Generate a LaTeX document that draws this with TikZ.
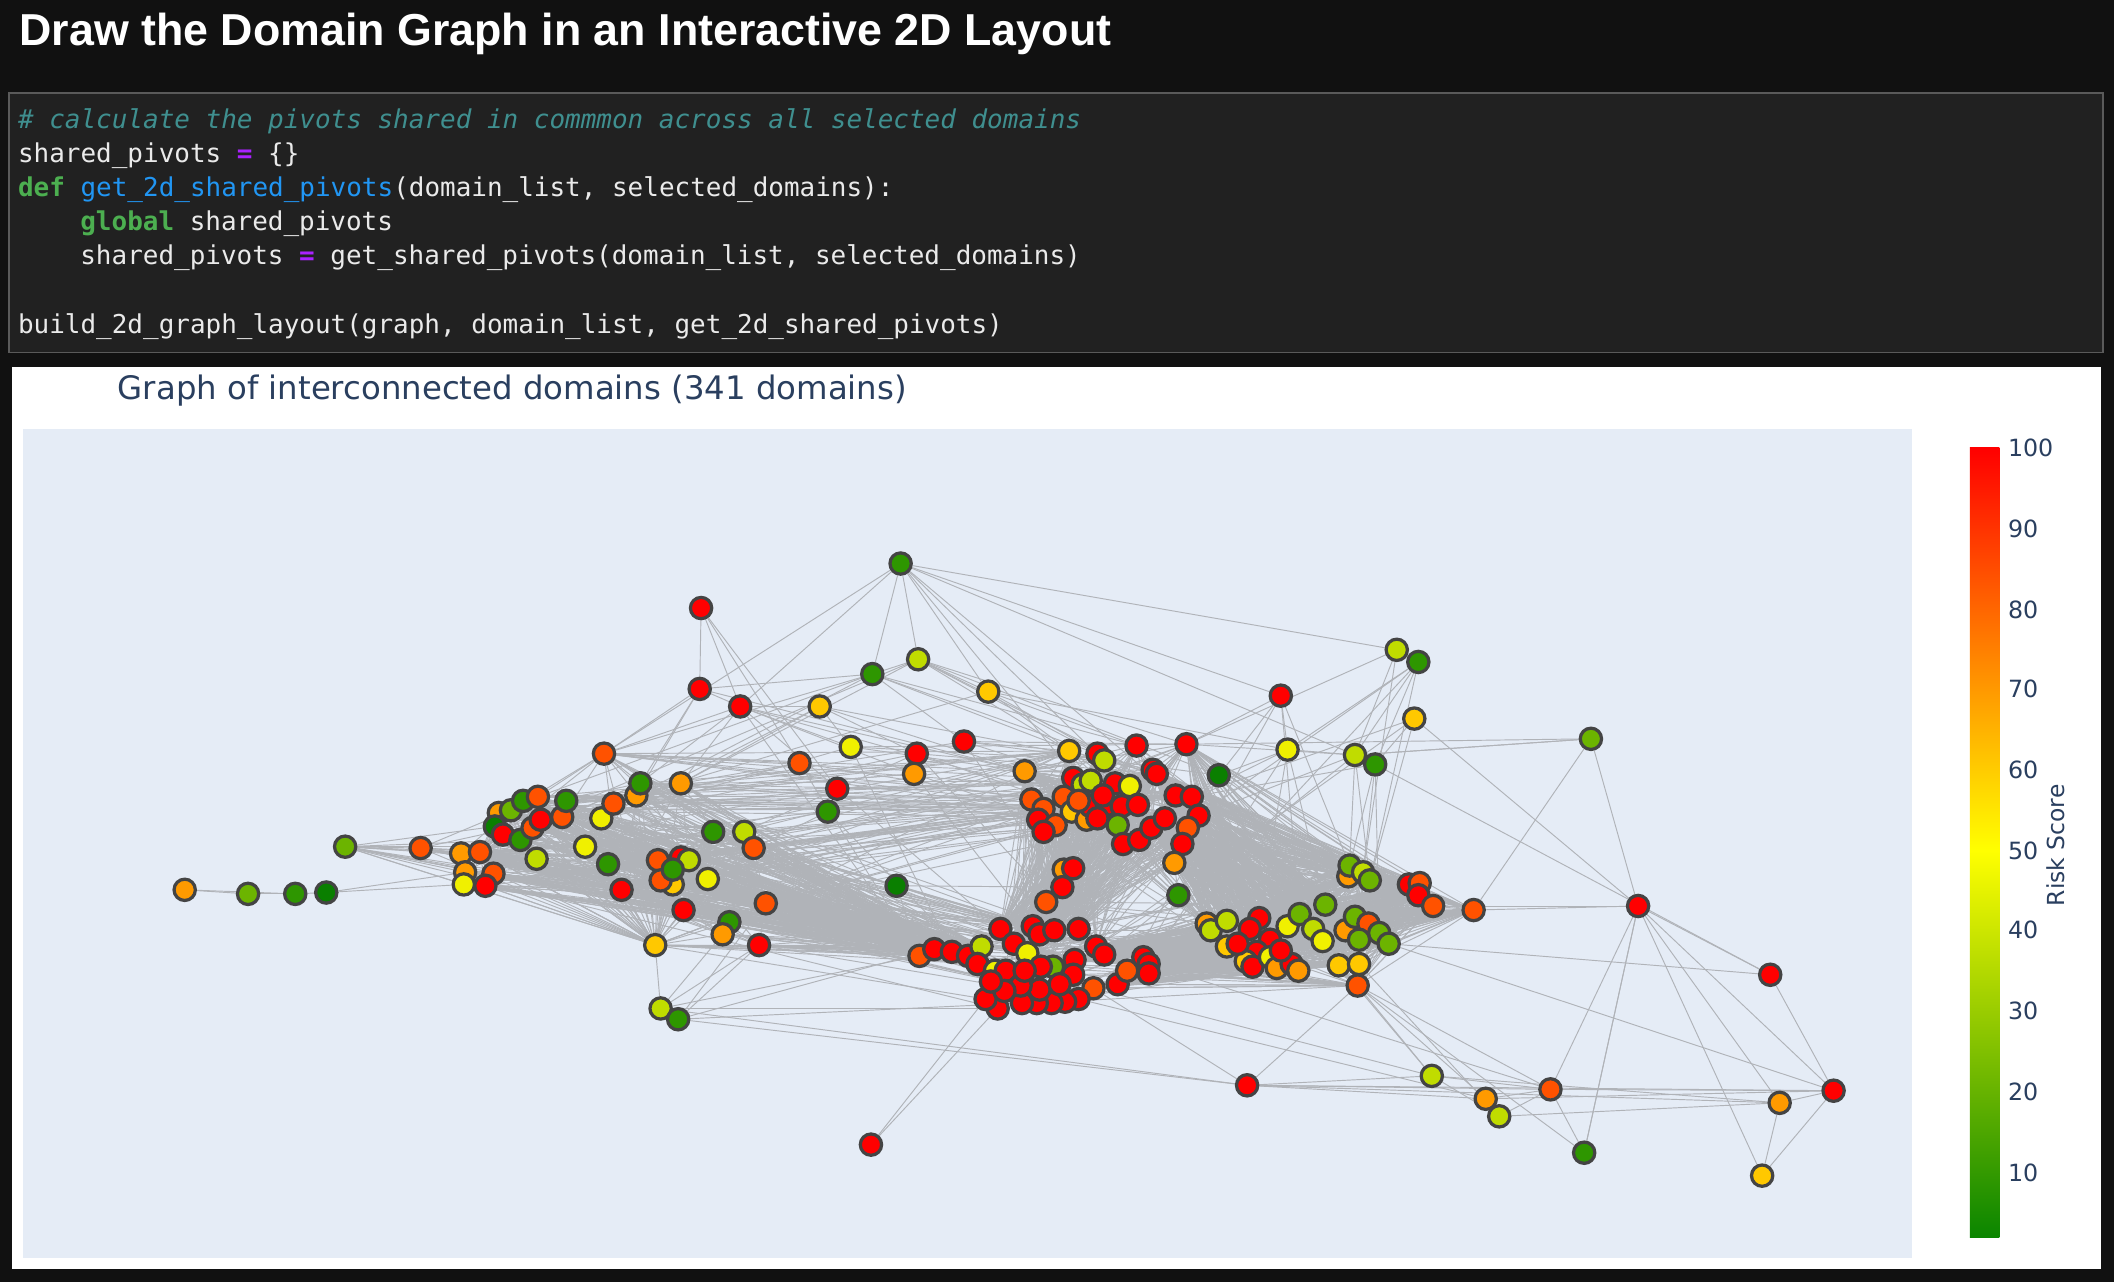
\documentclass[tikz,border=0pt]{standalone}
\usepackage{fontspec}
\setmainfont{Liberation Sans}
\setmonofont{DejaVu Sans Mono}
\newfontfamily\plotfont{DejaVu Sans}
\newfontfamily\headfont{Liberation Sans}
\definecolor{bgdark}{HTML}{111111}
\definecolor{codebg}{HTML}{212121}
\definecolor{codeborder}{HTML}{5A5A5A}
\definecolor{codetxt}{HTML}{EAEAEA}
\definecolor{cmt}{HTML}{3F8F8F}
\definecolor{kw}{HTML}{4CAF50}
\definecolor{fn}{HTML}{2196F3}
\definecolor{op}{HTML}{AA22FF}
\definecolor{plotbg}{HTML}{E5ECF6}
\definecolor{ptxt}{HTML}{2A3F5F}
\definecolor{edgegray}{HTML}{B0B3B8}
\definecolor{nline}{HTML}{444444}
\definecolor{cR}{HTML}{FF0000}
\definecolor{cOR}{HTML}{FF5200}
\definecolor{cO}{HTML}{FF9A00}
\definecolor{cYO}{HTML}{FFC800}
\definecolor{cY}{HTML}{F0F000}
\definecolor{cYG}{HTML}{C0DC00}
\definecolor{cLG}{HTML}{6CB400}
\definecolor{cG}{HTML}{2E9600}
\definecolor{cDG}{HTML}{0A7F00}
\definecolor{barlow}{HTML}{0A8500}
\definecolor{baryel}{HTML}{FFFF00}
\definecolor{barred}{HTML}{FF0000}
\pgfdeclareverticalshading{riskbar}{100bp}{color(0bp)=(barlow); color(25bp)=(barlow); color(49.5bp)=(baryel); color(75bp)=(barred); color(100bp)=(barred)}
\pgfdeclarelayer{back}
\pgfdeclarelayer{edges}
\pgfsetlayers{back,edges,main}
\tikzset{
  dom/.style={circle, draw=nline, line width=1.2pt, minimum size=7.9pt, inner sep=0pt, fill=#1},
  link/.style={draw=edgegray, line width=0.35pt},
  codeline/.style={anchor=base west, inner sep=0pt, text=codetxt, font=\ttfamily\fontsize{9.63}{11}\selectfont},
  tick/.style={anchor=west, inner sep=0pt, text=ptxt, font=\plotfont\fontsize{8.8}{11}\selectfont}
}
\begin{document}
\begin{tikzpicture}[x=0.5pt,y=-0.5pt]
\useasboundingbox (0,0) rectangle (1568,951);
\begin{pgfonlayer}{back}
\fill[bgdark] (0,0) rectangle (1568,951);
\draw[codeborder, fill=codebg, line width=0.6pt] (6.5,69) rectangle (1560,261.5);
\fill[white] (9,272) rectangle (1558,941);
\fill[plotbg] (17,318) rectangle (1418,933);
\end{pgfonlayer}

\node[anchor=base west, inner sep=0pt, text=white, font=\headfont\bfseries\fontsize{16.6}{20}\selectfont] (title) at (14,33.4) {Draw the Domain Graph in an Interactive 2D Layout};

\node[codeline] (c1) at (13,95.2) {\color{cmt}\itshape\# calculate the pivots shared in commmon across all selected domains};
\node[codeline] (c2) at (13,120.5) {shared\_pivots {\color{op}\bfseries=} \{\}};
\node[codeline] (c3) at (13,145.8) {{\color{kw}\bfseries def} {\color{fn}get\_2d\_shared\_pivots}(domain\_list, selected\_domains):};
\node[codeline] (c4) at (59.2,171.1) {{\color{kw}\bfseries global} shared\_pivots};
\node[codeline] (c5) at (59.2,196.4) {shared\_pivots {\color{op}\bfseries=} get\_shared\_pivots(domain\_list, selected\_domains)};
\node[codeline] (c6) at (13,247) {build\_2d\_graph\_layout(graph, domain\_list, get\_2d\_shared\_pivots)};

\node[anchor=base west, inner sep=0pt, text=ptxt, font=\plotfont\fontsize{12}{14}\selectfont] (ptitle) at (87,296) {Graph of interconnected domains (341 domains)};

% colorbar
\shade[shading=riskbar] (1461,332) rectangle (1483,918);
\foreach \v/\yy in {100/332,90/392,80/452,70/511,60/571,50/631,40/690,30/750,20/810,10/870}
  \node[tick] (tk\v) at (1489,\yy) {\v};
\node[rotate=90, inner sep=0pt, text=ptxt, font=\plotfont\fontsize{8.7}{11}\selectfont] (cbtitle) at (1525,627) {Risk Score};

% ---------- nodes ----------
\foreach \n/\x/\y/\c in {1/342/633/cO, 2/356/632/cOR, 3/345/647/cO, 4/366/648/cOR, 5/344/656/cY, 6/360/657/cR, 7/370/603/cO, 8/367/613/cDG, 9/379/601/cLG, 10/388/594/cG, 11/373/619/cR, 12/386/623/cG, 13/399/591/cOR, 14/395/614/cOR, 15/401/608/cR, 16/417/606/cOR, 17/420/594/cG, 18/398/637/cYG, 19/434/628/cY, 20/446/607/cY, 21/451/641/cG, 22/455/596/cOR, 23/461/660/cR, 24/472/590/cO, 25/475/581/cG, 26/488/638/cOR, 27/496/651/cOR, 28/499/656/cYO, 29/505/636/cR, 30/511/638/cYG, 31/507/675/cR, 32/505/581/cO, 33/525/652/cY, 34/529/617/cG, 35/552/617/cYG, 36/559/629/cOR, 37/568/670/cOR, 38/541/684/cG, 39/536/693/cO, 40/563/701/cR, 41/490/653/cOR, 42/499/645/cG, 43/312/629/cOR, 44/486/701/cYO, 45/448/559/cOR}
  {\node[dom=\c] (L\n) at (\x,\y) {};}
\foreach \n/\x/\y/\c in {1/520/451/cR, 2/519/511/cR, 3/549/524/cR, 4/608/524/cYO, 5/593/566/cOR, 6/631/554/cY, 7/621/585/cR, 8/614/602/cG, 9/647/500/cG, 10/668/418/cG, 11/681/489/cYG, 12/680/559/cR, 13/678/574/cO, 14/715/550/cR, 15/733/513/cYO, 16/665/657/cDG, 17/256/628/cLG, 18/137/660/cO, 19/184/663/cLG, 20/219/663/cG, 21/242/662/cDG, 22/490/748/cYG, 23/503/756/cG, 24/646/849/cR}
  {\node[dom=\c] (T\n) at (\x,\y) {};}
\foreach \n/\x/\y/\c in {1/760/572/cO, 2/793/557/cYO, 3/814/559/cR, 4/819/564/cYG, 5/843/553/cR, 6/880/552/cR, 7/855/571/cR, 8/858/574/cR, 9/872/590/cR, 10/884/591/cR, 11/889/605/cR, 12/881/614/cOR, 13/877/626/cR, 14/871/640/cO, 15/765/593/cOR, 16/774/600/cOR, 17/770/608/cR, 18/783/612/cOR, 19/774/617/cR, 20/789/591/cOR, 21/796/577/cR, 22/803/582/cYG, 23/809/579/cYG, 24/795/602/cYO, 25/806/608/cO, 26/827/581/cR, 27/838/583/cY, 28/809/598/cR, 29/821/597/cR, 30/832/598/cR, 31/844/597/cR, 32/829/612/cLG, 33/814/607/cR, 34/833/626/cR, 35/845/623/cR, 36/854/614/cR, 37/864/607/cR, 38/789/645/cO, 39/796/644/cR, 40/788/658/cR, 41/776/669/cOR, 42/818/590/cR, 43/800/594/cOR}
  {\node[dom=\c] (B\n) at (\x,\y) {};}
\foreach \n/\x/\y/\c in {1/682/709/cOR, 2/693/704/cR, 3/706/706/cR, 4/718/709/cR, 5/728/702/cYG, 6/742/689/cR, 7/766/687/cR, 8/771/693/cR, 9/782/690/cR, 10/800/689/cR, 11/813/702/cR, 12/819/708/cR, 13/811/733/cOR, 14/800/741/cR, 15/790/743/cR, 16/780/744/cR, 17/769/744/cR, 18/758/744/cR, 19/740/748/cR, 20/731/741/cR, 21/725/715/cR, 22/738/720/cY, 23/746/720/cR, 24/752/700/cR, 25/762/707/cY, 26/781/717/cLG, 27/772/717/cR, 28/797/712/cR, 29/796/723/cR, 30/771/734/cR, 31/757/731/cR, 32/745/735/cR, 33/829/730/cR, 34/836/720/cOR, 35/848/710/cR, 36/852/715/cR, 37/852/722/cR, 38/735/728/cR, 39/786/730/cR, 40/760/720/cR}
  {\node[dom=\c] (C\n) at (\x,\y) {};}
\foreach \n/\x/\y/\c in {1/895/685/cO, 2/898/690/cYG, 3/910/683/cYG, 4/910/702/cYO, 5/934/681/cR, 6/927/689/cR, 7/942/697/cR, 8/932/706/cR, 9/924/713/cYO, 10/929/717/cR, 11/942/710/cY, 12/947/718/cO, 13/958/715/cR, 14/963/720/cO, 15/955/687/cY, 16/964/678/cLG, 17/974/689/cYG, 18/981/698/cY, 19/983/671/cLG, 20/1000/650/cO, 21/1001/642/cLG, 22/1011/647/cYG, 23/1016/653/cLG, 24/998/690/cO, 25/1005/680/cLG, 26/1015/685/cOR, 27/1008/697/cLG, 28/1023/692/cLG, 29/1030/700/cLG, 30/993/716/cYO, 31/1008/715/cYO, 32/1007/731/cOR, 33/1045/656/cR, 34/1053/655/cOR, 35/1052/664/cR, 36/1063/672/cOR, 37/1093/675/cOR, 38/918/700/cR, 39/950/705/cR}
  {\node[dom=\c] (D\n) at (\x,\y) {};}
\foreach \n/\x/\y/\c in {1/904/575/cDG, 2/874/664/cG, 3/950/516/cR, 4/955/556/cY, 5/1005/560/cYG, 6/1020/567/cG, 7/1036/482/cYG, 8/1052/491/cG, 9/1049/533/cYO, 10/1180/548/cLG, 11/1215/672/cR, 12/1313/723/cR, 13/925/805/cR, 14/1062/798/cYG, 15/1102/815/cO, 16/1112/828/cYG, 17/1150/808/cOR, 18/1175/855/cG, 19/1320/818/cO, 20/1360/809/cR, 21/1307/872/cYO}
  {\node[dom=\c] (X\n) at (\x,\y) {};}

% ---------- connectors ----------
\begin{pgfonlayer}{edges}
% left cluster: dense fan into the left end of the bottom cluster
\foreach \i in {1,...,45}{\foreach \j in {1,2,3,4,5,21}{\draw[link] (L\i) -- (C\j);}}
\foreach \i in {1,4,...,43}{\foreach \j in {7,14,...,35}{\draw[link] (L\i) -- (C\j);}}
\foreach \i in {1,...,45}{\foreach \j in {2,9,...,44}{\draw[link] (L\i) -- (L\j);}}
\foreach \i in {1,5,...,45}{\foreach \j in {2,9,...,43}{\draw[link] (L\i) -- (B\j);}}
% top cluster to bottom cluster
\foreach \i in {1,...,43}{\foreach \j in {6,7,8,9,10,24}{\draw[link] (B\i) -- (C\j);}}
\foreach \i in {1,4,...,43}{\foreach \j in {11,18,25,32}{\draw[link] (B\i) -- (C\j);}}
\foreach \i in {1,...,43}{\foreach \j in {1,8,...,43}{\draw[link] (B\i) -- (B\j);}}
% top cluster to right cluster
\foreach \i in {6,7,8,9,10,11,12,13,14,36,37}{\foreach \j in {1,...,39}{\draw[link] (B\i) -- (D\j);}}
\foreach \i in {1,5,...,41}{\foreach \j in {1,10,19,28}{\draw[link] (B\i) -- (D\j);}}
% bottom cluster to right cluster
\foreach \i in {11,12,13,28,33,34,35,36,37}{\foreach \j in {1,...,39}{\draw[link] (C\i) -- (D\j);}}
\foreach \i in {1,5,...,37}{\foreach \j in {2,12,22,32}{\draw[link] (C\i) -- (D\j);}}
\foreach \i in {1,...,39}{\foreach \j in {1,8,...,36}{\draw[link] (D\i) -- (D\j);}}
\foreach \i in {1,...,32}{\foreach \j in {33,...,37}{\draw[link] (D\i) -- (D\j);}}
\foreach \a/\b in {T1/T2, T1/T3, T1/T5, T1/T7, T2/T3, T2/L25, T2/L24, T2/L45, T2/B1,
  T3/L45, T3/B1, T3/T7, T3/T13, T3/C1, T3/T6, T3/L32, T3/B20, T3/L22,
  T10/T3, T10/T9, T10/B27, T10/B22, T10/X3, T10/X5, T10/T15, T10/T11, T10/L45, T10/B9,
  T9/T11, T9/L45, T9/L24, T9/B3, T9/B5, T9/B10, T9/T14, T9/L13, T9/T2,
  T11/B2, T11/B10, T11/B3, T11/T15, T11/L11, T11/L32, T11/B6, T11/X1,
  T4/T6, T4/L32, T4/B1, T4/B7, T4/T12, T4/L20, T4/T3,
  T5/L32, T5/L22, T5/B15, T5/C1, T5/L45,
  T6/B4, T6/B21, T6/L20, T6/C3, T6/B6,
  T7/L16, T7/B26, T7/C6, T7/T12, T7/L35,
  T8/L36, T8/B17, T8/C4, T8/L34,
  T12/B8, T12/L20, T12/C10, T12/B13,
  T13/B14, T13/L17, T13/C8, T13/L24,
  T14/B6, T14/B11, T14/X1, T14/C12, T14/L24, T14/B2,
  T15/B5, T15/B26, T15/X4, T15/L11, T15/B9,
  T16/L30, T16/C1, T16/C8, T16/B40, T16/L36,
  T17/L1, T17/L3, T17/L5, T17/L8, T17/L12, T17/L19, T17/L23, T17/L31, T17/L44, T17/C1, T17/C3, T17/C19, T17/C22, T17/L43, T17/L21, T17/L26,
  T18/T19, T19/T20, T20/T21, T21/L5, T21/L3, T18/T20,
  T22/L40, T22/L39, T22/C1, T22/C19, T22/X13, T22/L44,
  T23/L40, T23/C2, T23/C18, T23/X13, T23/L37,
  T24/C19, T24/C20,
  L44/L23, L44/L31, L44/L6, L44/L37, L44/C1, L44/C20, L44/L2,
  L45/B1, L45/L13, L45/L25,
  X1/B6, X1/B11, X1/D19, X1/D21, X1/X3, X1/X4, X1/C10, X1/B37,
  X2/B14, X2/C35, X2/D1, X2/B35, X2/C11,
  X3/B6, X3/D21, X3/X4, X3/C34, X3/D16,
  X4/X5, X4/B10, X4/D19, X4/D5, X4/X8, X4/C36,
  X5/X6, X5/X7, X5/X8, X5/D21, X5/D23, X5/B6, X5/B11, X5/X10, X5/C12,
  X6/D21, X6/D22, X6/B10, X6/X8, X6/D28,
  X7/X8, X7/B6, X7/T10, X7/D22,
  X8/D23, X8/B11, X8/C35,
  X9/D23, X9/X6, X9/B10, X9/C11,
  X10/X11, X10/X5, X10/B6, X10/D37,
  X11/X12, X11/X19, X11/X20, X11/X17, X11/X18, X11/D37, X11/D36, X11/X9,
  X12/X20, X12/D29, X12/X6,
  X13/X14, X13/X15, X13/X17, X13/X20, X13/D32, X13/C13, X13/X19,
  X14/D32, X14/D30, X14/X16, X14/X17, X14/X19, X14/C13,
  X15/X16, X15/D32, X15/X20, X15/C14, X15/X17,
  X16/X17, X16/X19, X16/D31,
  X17/X18, X17/D32, X17/X20, X17/C36,
  X18/D32, X18/X11,
  X19/X20, X19/X21, X20/X21, X20/D29, X21/X11}
  {\draw[link] (\a) -- (\b);}
\end{pgfonlayer}
\end{tikzpicture}
\end{document}
